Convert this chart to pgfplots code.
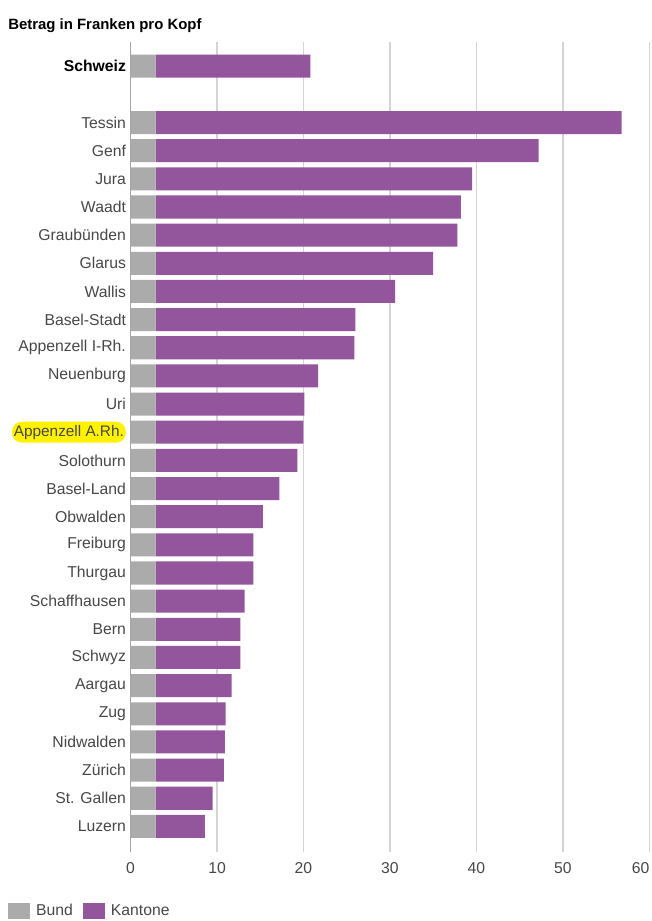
\documentclass[border=0pt]{standalone}
\usepackage{fontspec}
\setmainfont{Liberation Sans}
\usepackage{pgfplots}
\pgfplotsset{compat=1.18}
\definecolor{bund}{HTML}{AAABAA}
\definecolor{kantone}{HTML}{93559C}
\definecolor{hl}{HTML}{FFF200}
\begin{document}
\begin{tikzpicture}
\useasboundingbox (-97.95pt,-51.75pt) rectangle (391.05pt,639pt);
\node[anchor=base west, inner sep=0pt, font=\fontsize{11.2}{13}\selectfont\bfseries]
  at (-91.95pt,616.5pt) {Betrag in Franken pro Kopf};
\begin{axis}[
  scale only axis, width=389pt, height=607.5pt,
  xbar stacked, bar width=0.818,
  y dir=reverse,
  xmin=0, xmax=60, ymin=-0.86, ymax=27.91,
  xtick={0,10,...,60},
  xticklabels={0,10,20,30,40,50,{\makebox[0pt][r]{60}}},
  ytick={0,2,3,...,27},
  yticklabels={{\textcolor{black}{\bfseries Schweiz}},Tessin,Genf,Jura,Waadt,Graubünden,Glarus,Wallis,Basel-Stadt,Appenzell I-Rh.,Neuenburg,Uri,
    {\tikz[baseline=(t.base)]\node[anchor=base,fill=hl,rounded corners=7.5pt,inner xsep=1.5pt,inner ysep=2.5pt,font=\fontsize{11.5}{13}\selectfont](t){Appenzell A.Rh.};},
    Solothurn,Basel-Land,Obwalden,Freiburg,Thurgau,Schaffhausen,Bern,Schwyz,Aargau,Zug,Nidwalden,Zürich,St. Gallen,Luzern},
  major tick length=0pt,
  axis line style={draw=none},
  xmajorgrids,
  major grid style={draw=black!17, line width=1.1pt},
  /pgf/number format/assume math mode=true,
  tick label style={font=\fontsize{11.8}{13}\selectfont, text=black!72},
  xticklabel style={yshift=-4pt},
  legend columns=-1,
  legend style={at={(-0.2364,-0.0728)}, anchor=west, draw=none, fill=none,
    inner sep=0pt, nodes={inner sep=0pt}, font=\fontsize{11.8}{13}\selectfont, text=black!72,
    /tikz/every odd column/.append style={column sep=4.5pt},
    /tikz/every even column/.append style={column sep=7.5pt}},
  legend image code/.code={\fill[#1] (0pt,-6pt) rectangle (16.5pt,6pt);},
]
\addplot[fill=bund, draw=none] coordinates {
 (2.9,0) (2.9,2) (2.9,3) (2.9,4) (2.9,5) (2.9,6) (2.9,7) (2.9,8) (2.9,9)
 (2.9,10) (2.9,11) (2.9,12) (2.9,13) (2.9,14) (2.9,15) (2.9,16) (2.9,17)
 (2.9,18) (2.9,19) (2.9,20) (2.9,21) (2.9,22) (2.9,23) (2.9,24) (2.9,25)
 (2.9,26) (2.9,27)};
\addlegendentry{Bund}
\addplot[fill=kantone, draw=none] coordinates {
 (17.9,0) (53.9,2) (44.3,3) (36.6,4) (35.3,5) (34.9,6) (32.1,7) (27.7,8) (23.1,9)
 (23.0,10) (18.8,11) (17.2,12) (17.1,13) (16.4,14) (14.3,15) (12.4,16) (11.3,17)
 (11.3,18) (10.3,19) (9.8,20) (9.8,21) (8.8,22) (8.1,23) (8.0,24) (7.9,25)
 (6.6,26) (5.7,27)};
\addlegendentry{Kantone}
\draw[black!70, line width=1pt] (rel axis cs:0,0) -- (rel axis cs:0,1);
\end{axis}
\end{tikzpicture}
\end{document}
